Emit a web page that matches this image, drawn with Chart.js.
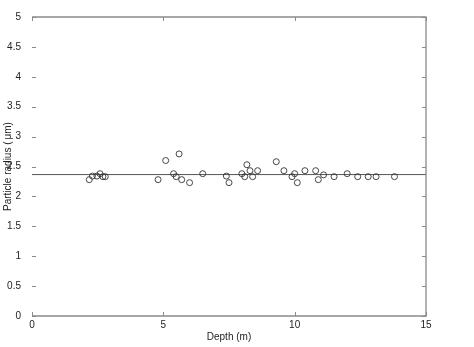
<!DOCTYPE html>
<html>
<head>
<meta charset="utf-8">
<script src="https://cdn.jsdelivr.net/npm/chart.js@4/dist/chart.umd.min.js"></script>
<style>
  html, body { margin: 0; padding: 0; background: #fff; }
  #wrap { width: 474px; height: 347px; position: relative; }
</style>
</head>
<body>
<div id="wrap"><canvas id="radiusChart"></canvas></div>
<script>
// Measured particle radius against depth
const depth = [2.18, 2.30, 2.47, 2.59, 2.70, 2.79, 4.80, 5.09, 5.39, 5.49, 5.60, 5.70, 6.00, 6.50,
    7.40, 7.50, 7.99, 8.10, 8.18, 8.30, 8.40, 8.59, 9.30, 9.59, 9.90, 10.00, 10.10, 10.39,
    10.80, 10.90, 11.10, 11.50, 12.00, 12.40, 12.80, 13.10, 13.80];
const radius = [2.28, 2.34, 2.34, 2.38, 2.33, 2.33, 2.28, 2.60, 2.38, 2.33, 2.71, 2.28, 2.23, 2.38,
    2.34, 2.23, 2.38, 2.33, 2.53, 2.43, 2.33, 2.43, 2.58, 2.43, 2.33, 2.38, 2.23, 2.43,
    2.43, 2.28, 2.36, 2.33, 2.38, 2.33, 2.33, 2.33, 2.33];
const meanRadius = 2.365;
const xRange = [0, 15];
const yRange = [0, 5];
const xTicks = [0, 5, 10, 15];
const yTicks = [0, 0.5, 1, 1.5, 2, 2.5, 3, 3.5, 4, 4.5, 5];

const points = depth.map((d, i) => ({ x: d, y: radius[i] }));

// frame on top/right/bottom plus short inward tick marks
const frameTicks = {
    id: 'frameTicks',
    afterDraw(chart) {
        const { ctx, chartArea: a, scales: { x, y } } = chart;
        ctx.save();
        ctx.strokeStyle = '#8a8a8a';
        ctx.lineWidth = 1.3;
        ctx.beginPath();
        ctx.moveTo(a.left, a.top); ctx.lineTo(a.right, a.top);
        ctx.lineTo(a.right, a.bottom); ctx.lineTo(a.left, a.bottom);
        ctx.stroke();
        ctx.lineWidth = 1;
        ctx.beginPath();
        yTicks.forEach(v => {
            const py = Math.round(y.getPixelForValue(v)) + 0.5;
            ctx.moveTo(a.left, py); ctx.lineTo(a.left + 4, py);
            ctx.moveTo(a.right, py); ctx.lineTo(a.right - 4, py);
        });
        xTicks.forEach(v => {
            const px = Math.round(x.getPixelForValue(v)) + 0.5;
            ctx.moveTo(px, a.bottom); ctx.lineTo(px, a.bottom - 4);
            ctx.moveTo(px, a.top); ctx.lineTo(px, a.top + 4);
        });
        ctx.stroke();
        ctx.restore();
    }
};

const font = { family: 'Liberation Sans, Arial, sans-serif', size: 10 };

new Chart(document.getElementById('radiusChart'), {
    type: 'scatter',
    data: {
        datasets: [{
            data: points,
            pointStyle: 'circle',
            pointRadius: 3,
            pointBackgroundColor: 'rgba(0,0,0,0)',
            pointBorderColor: '#333',
            pointBorderWidth: 0.9,
            order: 1
        }, {
            type: 'line',
            data: [{ x: xRange[0], y: meanRadius }, { x: xRange[1], y: meanRadius }],
            borderColor: '#555',
            borderWidth: 1,
            pointRadius: 0,
            order: 2
        }]
    },
    options: {
        responsive: true,
        maintainAspectRatio: false,
        animation: false,
        layout: { padding: { top: 5, right: 48, left: 0, bottom: 0 } },
        plugins: { legend: { display: false }, tooltip: { enabled: false } },
        scales: {
            x: {
                type: 'linear',
                min: xRange[0], max: xRange[1],
                afterBuildTicks: s => { s.ticks = xTicks.map(v => ({ value: v })); },
                afterFit: s => { s.height = 31; },
                grid: { display: false, drawTicks: false },
                border: { display: false },
                ticks: { color: '#222', font, padding: 3, maxRotation: 0, callback: v => String(v) },
                title: { display: true, text: 'Depth (m)', color: '#222', font, padding: { top: 0, bottom: 4 } }
            },
            y: {
                type: 'linear',
                min: yRange[0], max: yRange[1],
                afterBuildTicks: s => { s.ticks = yTicks.map(v => ({ value: v })); },
                afterFit: s => { s.width = 32; },
                grid: { display: false, drawTicks: false },
                border: { display: false },
                ticks: { color: '#222', font, padding: 11, callback: v => String(v) },
                title: { display: true, text: 'Particle radius (\u2009\u03bcm)', color: '#222', font, padding: { top: 2, bottom: 0 } }
            }
        }
    },
    plugins: [frameTicks]
});
</script>
</body>
</html>
